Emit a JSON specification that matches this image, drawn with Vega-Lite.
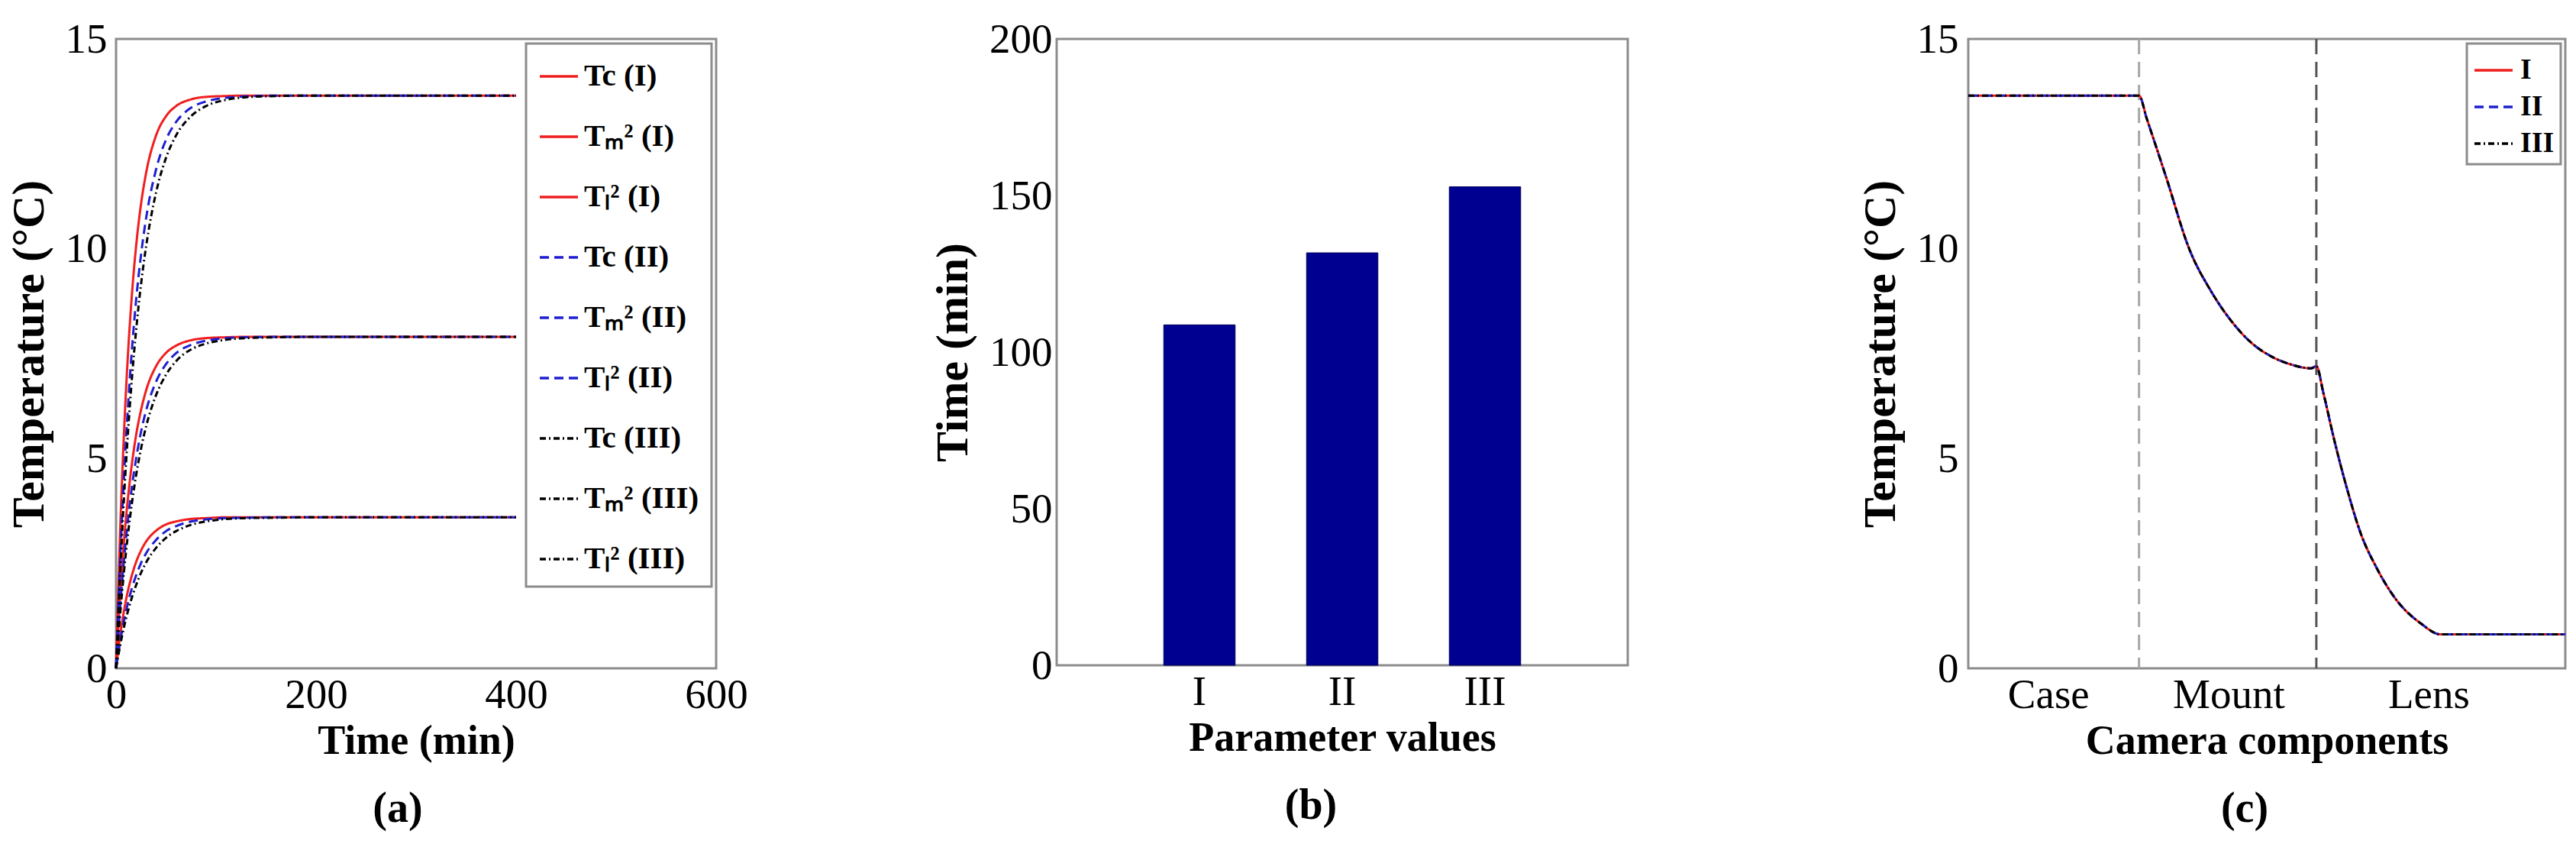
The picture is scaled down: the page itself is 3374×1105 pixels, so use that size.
{
  "$schema": "https://vega.github.io/schema/vega-lite/v6.json",
  "background": "white",
  "padding": {"left": 6, "top": 22, "right": 5, "bottom": 5},
  "config": {
    "view": {"stroke": "#8c8c8c", "strokeWidth": 3},
    "axis": {"labelFont": "Liberation Serif", "labelFontSize": 55, "labelColor": "#000", "titleFont": "Liberation Serif", "titleFontSize": 54, "titleFontWeight": "bold", "titleColor": "#000", "domain": false, "ticks": false, "grid": false, "labelFlush": false, "labelOverlap": false, "labelPadding": 8, "titlePadding": 6},
    "title": {"font": "Liberation Serif", "fontSize": 56, "fontWeight": "bold", "color": "#000"},
    "legend": {"strokeWidth": 3}
  },
  "resolve": {"scale": {"color": "independent", "strokeDash": "independent", "x": "independent", "y": "independent"}, "legend": {"color": "independent", "strokeDash": "independent"}},
  "spacing": 446,
  "bounds": "flush",
  "hconcat": [
    {
      "width": 786,
      "height": 824,
      "title": {"text": "(a)", "orient": "bottom", "anchor": "middle", "frame": "group", "offset": 35, "dx": -24},
      "data": {"values": [
        {"t": 0, "c1": 0, "m1": 0, "l1": 0, "c2": 0, "m2": 0, "l2": 0, "c3": 0, "m3": 0, "l3": 0},
        {"t": 4, "c1": 3.20, "m1": 1.70, "l1": 0.77, "c2": 2.53, "m2": 1.43, "l2": 0.62, "c3": 2.22, "m3": 1.26, "l3": 0.53},
        {"t": 8, "c1": 5.64, "m1": 3.04, "l1": 1.38, "c2": 4.59, "m2": 2.60, "l2": 1.14, "c3": 4.08, "m3": 2.32, "l3": 0.99},
        {"t": 12, "c1": 7.52, "m1": 4.08, "l1": 1.86, "c2": 6.27, "m2": 3.56, "l2": 1.57, "c3": 5.64, "m3": 3.21, "l3": 1.37},
        {"t": 16, "c1": 8.95, "m1": 4.90, "l1": 2.23, "c2": 7.64, "m2": 4.35, "l2": 1.92, "c3": 6.95, "m3": 3.96, "l3": 1.70},
        {"t": 20, "c1": 10.05, "m1": 5.55, "l1": 2.53, "c2": 8.76, "m2": 4.99, "l2": 2.21, "c3": 8.04, "m3": 4.59, "l3": 1.98},
        {"t": 25, "c1": 11.07, "m1": 6.16, "l1": 2.81, "c2": 9.86, "m2": 5.64, "l2": 2.51, "c3": 9.16, "m3": 5.24, "l3": 2.28},
        {"t": 30, "c1": 11.80, "m1": 6.62, "l1": 3.02, "c2": 10.72, "m2": 6.14, "l2": 2.74, "c3": 10.05, "m3": 5.76, "l3": 2.52},
        {"t": 40, "c1": 12.70, "m1": 7.20, "l1": 3.28, "c2": 11.89, "m2": 6.83, "l2": 3.06, "c3": 11.34, "m3": 6.51, "l3": 2.87},
        {"t": 50, "c1": 13.16, "m1": 7.52, "l1": 3.43, "c2": 12.60, "m2": 7.25, "l2": 3.27, "c3": 12.17, "m3": 7.00, "l3": 3.11},
        {"t": 60, "c1": 13.40, "m1": 7.69, "l1": 3.50, "c2": 13.02, "m2": 7.51, "l2": 3.39, "c3": 12.70, "m3": 7.32, "l3": 3.27},
        {"t": 75, "c1": 13.56, "m1": 7.82, "l1": 3.56, "c2": 13.36, "m2": 7.71, "l2": 3.50, "c3": 13.16, "m3": 7.60, "l3": 3.42},
        {"t": 90, "c1": 13.62, "m1": 7.87, "l1": 3.58, "c2": 13.51, "m2": 7.81, "l2": 3.55, "c3": 13.40, "m3": 7.74, "l3": 3.50},
        {"t": 110, "c1": 13.64, "m1": 7.89, "l1": 3.60, "c2": 13.60, "m2": 7.87, "l2": 3.58, "c3": 13.55, "m3": 7.83, "l3": 3.56},
        {"t": 130, "c1": 13.65, "m1": 7.90, "l1": 3.60, "c2": 13.63, "m2": 7.89, "l2": 3.59, "c3": 13.61, "m3": 7.87, "l3": 3.58},
        {"t": 160, "c1": 13.65, "m1": 7.90, "l1": 3.60, "c2": 13.65, "m2": 7.90, "l2": 3.60, "c3": 13.64, "m3": 7.89, "l3": 3.59},
        {"t": 200, "c1": 13.65, "m1": 7.90, "l1": 3.60, "c2": 13.65, "m2": 7.90, "l2": 3.60, "c3": 13.65, "m3": 7.90, "l3": 3.60},
        {"t": 400, "c1": 13.65, "m1": 7.90, "l1": 3.60, "c2": 13.65, "m2": 7.90, "l2": 3.60, "c3": 13.65, "m3": 7.90, "l3": 3.60}
      ]},
      "transform": [{"fold": ["c1", "m1", "l1", "c2", "m2", "l2", "c3", "m3", "l3"], "as": ["series", "temp"]}],
      "mark": {"type": "line", "strokeWidth": 3, "interpolate": "monotone"},
      "encoding": {
        "x": {"field": "t", "type": "quantitative", "scale": {"domain": [0, 600]}, "axis": {"values": [0, 200, 400, 600], "title": "Time (min)"}},
        "y": {"field": "temp", "type": "quantitative", "scale": {"domain": [0, 15]}, "axis": {"values": [0, 5, 10, 15], "title": "Temperature (°C)", "titleFontSize": 60, "labelPadding": 12, "titlePadding": 16}},
        "color": {"field": "series", "type": "nominal",
          "scale": {"domain": ["c1", "m1", "l1", "c2", "m2", "l2", "c3", "m3", "l3"], "range": ["#f01e1e", "#f01e1e", "#f01e1e", "#1f1fd0", "#1f1fd0", "#1f1fd0", "#000000", "#000000", "#000000"]},
          "legend": {"title": null, "orient": "top-right", "offset": 6, "labelExpr": "{'c1':'Tc (I)','m1':'Tₘ² (I)','l1':'Tₗ² (I)','c2':'Tc (II)','m2':'Tₘ² (II)','l2':'Tₗ² (II)','c3':'Tc (III)','m3':'Tₘ² (III)','l3':'Tₗ² (III)'}[datum.label]", "labelFont": "Liberation Serif", "labelFontSize": 41, "labelFontWeight": "bold", "labelColor": "#000", "symbolType": "stroke", "symbolSize": 2500, "symbolStrokeWidth": 3.5, "rowPadding": 32, "padding": 16, "strokeColor": "#8c8c8c", "fillColor": "white", "labelOffset": 6, "labelLimit": 400}},
        "strokeDash": {"field": "series", "type": "nominal",
          "scale": {"domain": ["c1", "m1", "l1", "c2", "m2", "l2", "c3", "m3", "l3"], "range": [[1, 0], [1, 0], [1, 0], [12, 7], [12, 7], [12, 7], [8, 4, 2, 4], [8, 4, 2, 4], [8, 4, 2, 4]]},
          "legend": {"title": null, "orient": "top-right", "offset": 6, "labelExpr": "{'c1':'Tc (I)','m1':'Tₘ² (I)','l1':'Tₗ² (I)','c2':'Tc (II)','m2':'Tₘ² (II)','l2':'Tₗ² (II)','c3':'Tc (III)','m3':'Tₘ² (III)','l3':'Tₗ² (III)'}[datum.label]", "labelFont": "Liberation Serif", "labelFontSize": 41, "labelFontWeight": "bold", "labelColor": "#000", "symbolType": "stroke", "symbolSize": 2500, "symbolStrokeWidth": 3.5, "rowPadding": 32, "padding": 16, "strokeColor": "#8c8c8c", "fillColor": "white", "labelOffset": 6, "labelLimit": 400}}
      }
    },
    {
      "width": 748,
      "height": 820,
      "title": {"text": "(b)", "orient": "bottom", "anchor": "middle", "frame": "group", "offset": 35, "dx": -41},
      "data": {"values": [
        {"p": "I", "time": 108.7},
        {"p": "II", "time": 131.7},
        {"p": "III", "time": 152.8}
      ]},
      "mark": {"type": "bar", "color": "#000090", "stroke": "#00005a", "strokeWidth": 1},
      "encoding": {
        "x": {"field": "p", "type": "nominal", "sort": null, "scale": {"paddingInner": 0.5, "paddingOuter": 0.75}, "axis": {"labelAngle": 0, "title": "Parameter values"}},
        "y": {"field": "time", "type": "quantitative", "scale": {"domain": [0, 200]}, "axis": {"values": [0, 50, 100, 150, 200], "title": "Time (min)", "titleFontSize": 60, "labelPadding": 6, "titlePadding": 16}}
      }
    },
    {
      "width": 782,
      "height": 824,
      "title": {"text": "(c)", "orient": "bottom", "anchor": "middle", "frame": "group", "offset": 35, "dx": -29},
      "encoding": {
        "x": {"field": "x", "type": "quantitative", "scale": {"domain": [0, 100]}, "axis": {"values": [13.4, 43.6, 77.1], "labelExpr": "datum.value < 30 ? 'Case' : datum.value < 60 ? 'Mount' : 'Lens'", "title": "Camera components"}}
      },
      "layer": [
        {
          "data": {"values": [{"x": 28.6}]},
          "mark": {"type": "rule", "color": "#a6a6a6", "strokeWidth": 3, "strokeDash": [20, 10]},
          "encoding": {}
        },
        {
          "data": {"values": [{"x": 58.3}]},
          "mark": {"type": "rule", "color": "#555555", "strokeWidth": 3, "strokeDash": [20, 10]},
          "encoding": {}
        },
        {
          "data": {"values": [
            {"x": 0, "I": 13.65, "II": 13.65, "III": 13.65},
            {"x": 28.6, "I": 13.65, "II": 13.65, "III": 13.65},
            {"x": 29.9, "I": 13.1, "II": 13.1, "III": 13.1},
            {"x": 33.2, "I": 11.68, "II": 11.68, "III": 11.68},
            {"x": 37.0, "I": 10.0, "II": 10.0, "III": 10.0},
            {"x": 40.7, "I": 8.98, "II": 8.98, "III": 8.98},
            {"x": 44.1, "I": 8.27, "II": 8.27, "III": 8.27},
            {"x": 47.4, "I": 7.76, "II": 7.76, "III": 7.76},
            {"x": 50.8, "I": 7.43, "II": 7.43, "III": 7.43},
            {"x": 54.1, "I": 7.24, "II": 7.24, "III": 7.24},
            {"x": 57.4, "I": 7.15, "II": 7.15, "III": 7.15},
            {"x": 58.3, "I": 7.2, "II": 7.2, "III": 7.2},
            {"x": 59.5, "I": 6.55, "II": 6.55, "III": 6.55},
            {"x": 61.2, "I": 5.5, "II": 5.5, "III": 5.5},
            {"x": 63.3, "I": 4.35, "II": 4.35, "III": 4.35},
            {"x": 65.8, "I": 3.19, "II": 3.19, "III": 3.19},
            {"x": 68.3, "I": 2.42, "II": 2.42, "III": 2.42},
            {"x": 71.6, "I": 1.65, "II": 1.65, "III": 1.65},
            {"x": 75.8, "I": 1.07, "II": 1.07, "III": 1.07},
            {"x": 79.1, "I": 0.81, "II": 0.81, "III": 0.81},
            {"x": 100, "I": 0.81, "II": 0.81, "III": 0.81}
          ]},
          "transform": [{"fold": ["I", "II", "III"], "as": ["case", "temp"]}],
          "mark": {"type": "line", "strokeWidth": 3, "interpolate": "monotone"},
          "encoding": {
            "y": {"field": "temp", "type": "quantitative", "scale": {"domain": [0, 15]}, "axis": {"values": [0, 5, 10, 15], "title": "Temperature (°C)", "titleFontSize": 60, "labelPadding": 13, "titlePadding": 16}},
            "color": {"field": "case", "type": "nominal",
              "scale": {"domain": ["I", "II", "III"], "range": ["#f01e1e", "#1f1fd0", "#000000"]},
              "legend": {"title": null, "orient": "top-right", "offset": 6, "labelFont": "Liberation Serif", "labelFontSize": 38, "labelFontWeight": "bold", "labelColor": "#000", "symbolType": "stroke", "symbolSize": 2500, "symbolStrokeWidth": 3.5, "rowPadding": 2, "padding": 8, "strokeColor": "#8c8c8c", "fillColor": "white", "labelOffset": 8}},
            "strokeDash": {"field": "case", "type": "nominal",
              "scale": {"domain": ["I", "II", "III"], "range": [[1, 0], [12, 7], [8, 4, 2, 4]]},
              "legend": {"title": null, "orient": "top-right", "offset": 6, "labelFont": "Liberation Serif", "labelFontSize": 38, "labelFontWeight": "bold", "labelColor": "#000", "symbolType": "stroke", "symbolSize": 2500, "symbolStrokeWidth": 3.5, "rowPadding": 2, "padding": 8, "strokeColor": "#8c8c8c", "fillColor": "white", "labelOffset": 8}}
          }
        }
      ]
    }
  ]
}
